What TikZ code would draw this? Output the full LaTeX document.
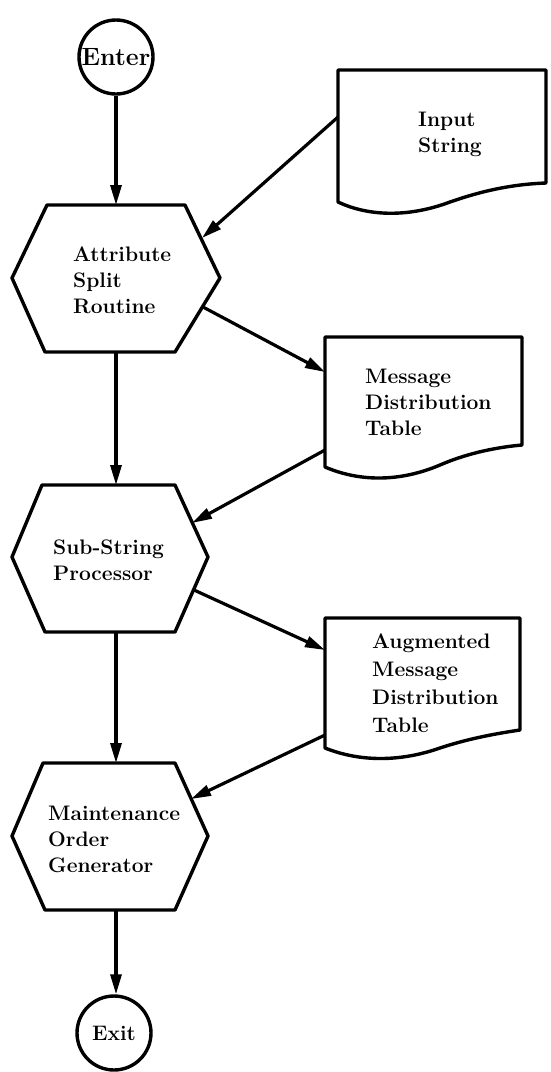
\documentclass[tikz,border=0pt]{standalone}
\usepackage{fontspec}
\usetikzlibrary{arrows.meta}
\begin{document}
\begin{tikzpicture}[x=1pt,y=-1pt,
  outline/.style={line width=3.4pt,line join=round},
  label/.style={font=\bfseries\fontsize{21}{26}\selectfont,align=left,inner sep=0pt,anchor=base west},
  term/.style={circle,draw,line width=3.4pt,minimum size=74pt,inner sep=0pt,font=\bfseries\fontsize{21}{24}\selectfont},
  flow/.style={line width=3.2pt,-{Triangle[length=20pt,width=11pt]}}]
\useasboundingbox (0,0) rectangle (550,1072);

% terminals
\node[term,font=\bfseries\fontsize{25}{28}\selectfont] (enter) at (116,57) {Enter};
\node[term] (exit) at (114,1033) {Exit};

% process hexagons (text placed by its last baseline)
\draw[outline] (47,205) -- (185,205) -- (220,278) -- (175,352) -- (45,352) -- (12,278) -- cycle;
\coordinate (p1top) at (116,205);
\coordinate (p1bot) at (116,352);
\coordinate (p1in) at (202,238);
\coordinate (p1out) at (203,307);
\node[label] (p1) at (73,313) {Attribute\\Split\\Routine};

\draw[outline] (42,485) -- (175,485) -- (208,557) -- (175,632) -- (45,632) -- (12,557) -- cycle;
\coordinate (p2top) at (116,485);
\coordinate (p2bot) at (116,632);
\coordinate (p2in) at (192,523);
\coordinate (p2out) at (194,590);
\node[label] (p2) at (53,580) {Sub-String\\Processor};

\draw[outline] (43,763) -- (175,763) -- (208,836) -- (175,910) -- (45,910) -- (12,836) -- cycle;
\coordinate (p3top) at (116,763);
\coordinate (p3bot) at (116,910);
\coordinate (p3in) at (191,799);
\node[label] (p3) at (48,872) {Maintenance\\Order\\Generator};

% documents
\draw[outline] (338,202) -- (338,70) -- (546,70) -- (546,183)
  .. controls (520,184) and (490,188) .. (450,202)
  .. controls (410,217) and (370,217) .. (338,202) -- cycle;
\coordinate (d1out) at (338,117);
\node[label] (d1) at (418,152) {Input\\String};

\draw[outline] (325,467) -- (325,337) -- (522,337) -- (522,445)
  .. controls (500,447) and (470,452) .. (440,465)
  .. controls (400,482) and (360,482) .. (325,467) -- cycle;
\coordinate (d2in) at (325,372);
\coordinate (d2out) at (325,450);
\node[label] (d2) at (365,435) {Message\\Distribution\\Table};

\draw[outline] (325,748) -- (325,618) -- (520,618) -- (520,730)
  .. controls (500,733) and (470,738) .. (440,748)
  .. controls (400,762) and (360,762) .. (325,748) -- cycle;
\coordinate (d3in) at (325,650);
\coordinate (d3out) at (325,735);
\node[label,font=\bfseries\fontsize{21}{28}\selectfont] (d3) at (372,732) {Augmented\\Message\\Distribution\\Table};

% main flow
\draw[flow] (enter) -- (p1top);
\draw[flow] (p1bot) -- (p2top);
\draw[flow] (p2bot) -- (p3top);
\draw[flow] (p3bot) -- (p3bot |- exit.north);

% data flow
\draw[flow] (d1out) -- (p1in);
\draw[flow] (p1out) -- (d2in);
\draw[flow] (d2out) -- (p2in);
\draw[flow] (p2out) -- (d3in);
\draw[flow] (d3out) -- (p3in);
\end{tikzpicture}
\end{document}
